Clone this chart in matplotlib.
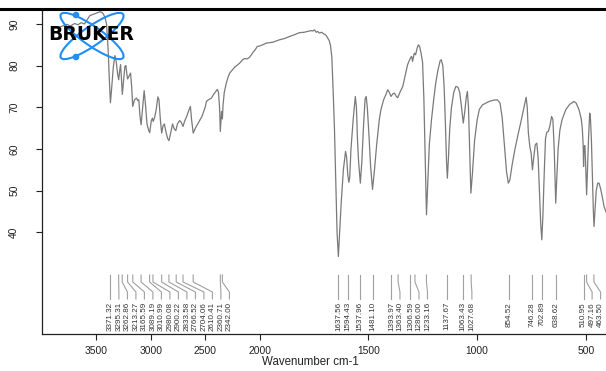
import numpy as np
import matplotlib
matplotlib.use("Agg")
import matplotlib.pyplot as plt
from matplotlib.patches import Ellipse, Circle
from matplotlib.lines import Line2D
from matplotlib.transforms import blended_transform_factory, Affine2D

plt.rcParams['font.family'] = ['Liberation Sans', 'DejaVu Sans']

# ---------------- data ----------------
wavenumber = [3880, 3840, 3800, 3770, 3740, 3700, 3670, 3640, 3610, 3580, 3560, 3520, 3490, 3468, 3450,
              3437, 3420, 3407, 3392, 3380, 3371, 3360, 3345, 3330, 3318, 3305, 3295, 3285, 3278, 3270,
              3262, 3250, 3238, 3229, 3220, 3213, 3200, 3186, 3176, 3166, 3150, 3131, 3120, 3110, 3100,
              3089, 3075, 3061, 3050, 3035, 3020, 3010, 2995, 2985, 2978, 2965, 2950, 2935, 2925, 2912,
              2900, 2888, 2875, 2860, 2845, 2833, 2820, 2800, 2785, 2770, 2755, 2735, 2720, 2704, 2690,
              2670, 2650, 2636, 2625, 2610, 2590, 2560, 2530, 2500, 2489, 2470, 2443, 2420, 2400, 2388,
              2378, 2368, 2361, 2355, 2350, 2346, 2342, 2336, 2325, 2306, 2290, 2275, 2250, 2230, 2210,
              2183, 2160, 2138, 2115, 2092, 2075, 2060, 2040, 2021, 2000, 1985, 1969, 1940, 1908, 1885,
              1862, 1840, 1817, 1795, 1780, 1763, 1755, 1748, 1740, 1733, 1725, 1715, 1705, 1695, 1687,
              1680, 1674, 1668, 1662, 1656, 1650, 1644, 1638, 1632, 1625, 1615, 1605, 1600, 1595, 1590,
              1586, 1580, 1570, 1560, 1555, 1550, 1545, 1537, 1530, 1522, 1515, 1510, 1505, 1497, 1490,
              1481, 1472, 1462, 1450, 1442, 1430, 1420, 1411, 1404, 1396, 1388, 1380, 1372, 1365, 1355,
              1342, 1330, 1320, 1312, 1305, 1301, 1297, 1292, 1289, 1283, 1276, 1270, 1264, 1258, 1251,
              1245, 1240, 1233, 1227, 1220, 1210, 1200, 1190, 1180, 1170, 1165, 1158, 1152, 1146, 1141,
              1137, 1132, 1126, 1118, 1108, 1098, 1088, 1080, 1072, 1064, 1057, 1050, 1045, 1040, 1035,
              1029, 1022, 1012, 1000, 990, 975, 960, 945, 925, 907, 895, 885, 875, 865, 857,
              850, 840, 827, 812, 797, 785, 775, 770, 765, 758, 752, 746, 740, 733, 726,
              720, 714, 708, 703, 698, 692, 686, 680, 673, 666, 658, 652, 646, 642, 639,
              635, 628, 620, 610, 593, 575, 555, 545, 532, 522, 517, 513, 511, 509, 505,
              502, 497, 493, 488, 483, 480, 475, 470, 466, 463, 459, 453, 446, 440, 433,
              425, 417, 405]
transmittance = [89.0, 89.2, 89.6, 89.9, 89.5, 90.1, 89.8, 90.3, 90.0, 91.2, 92.0, 92.4, 92.7, 92.9, 92.8,
                 92.4, 91.5, 90.0, 83.8, 76.0, 71.1, 74.5, 79.5, 82.4, 81.0, 78.0, 76.6, 79.0, 80.2, 77.0,
                 73.1, 76.5, 79.8, 80.0, 78.0, 76.8, 77.5, 78.2, 75.0, 70.2, 71.8, 72.2, 71.6, 71.8, 68.0,
                 65.8, 70.0, 74.0, 71.0, 66.0, 64.5, 63.9, 66.8, 67.4, 66.6, 67.5, 69.5, 72.5, 71.8, 67.0,
                 63.8, 65.5, 66.0, 64.0, 62.5, 62.0, 63.5, 66.0, 64.8, 64.4, 66.0, 66.8, 66.4, 65.4, 66.6,
                 67.8, 69.3, 70.2, 67.0, 63.8, 65.0, 66.4, 67.8, 70.0, 71.4, 71.8, 72.2, 73.2, 73.9, 74.3,
                 73.6, 70.0, 64.2, 67.0, 69.0, 68.0, 67.2, 70.5, 73.5, 75.8, 77.2, 78.2, 79.0, 79.6, 80.0,
                 80.6, 81.3, 81.7, 81.6, 82.0, 82.6, 83.2, 83.8, 84.6, 84.7, 85.0, 85.4, 85.6, 86.2, 86.5,
                 87.0, 87.4, 87.9, 88.0, 88.2, 88.4, 88.3, 88.6, 88.0, 88.2, 87.8, 88.0, 87.6, 87.3, 86.6,
                 86.0, 84.8, 82.0, 74.0, 65.0, 52.0, 40.0, 34.2, 40.0, 47.0, 55.0, 59.4, 58.0, 54.0, 52.0,
                 53.0, 60.0, 67.0, 72.6, 70.0, 62.0, 57.0, 51.8, 57.0, 66.0, 72.0, 72.6, 70.0, 63.0, 56.0,
                 50.3, 55.0, 61.0, 67.0, 69.5, 71.8, 73.0, 74.2, 73.6, 72.6, 73.2, 73.4, 72.6, 72.3, 73.6,
                 75.0, 77.8, 80.2, 81.2, 82.0, 82.2, 81.0, 82.2, 83.0, 82.6, 84.2, 85.0, 84.5, 83.0, 80.8,
                 72.0, 60.0, 44.2, 52.0, 61.0, 67.0, 71.8, 76.0, 79.0, 81.2, 81.4, 80.0, 75.0, 66.0, 57.0,
                 53.0, 58.0, 65.0, 70.0, 73.5, 75.0, 74.8, 73.5, 70.0, 66.2, 69.0, 72.5, 73.8, 70.0, 61.0,
                 49.4, 54.0, 62.0, 67.0, 69.5, 70.6, 71.0, 71.4, 71.7, 71.8, 71.0, 67.5, 61.0, 54.5, 51.8,
                 52.5, 56.0, 59.8, 63.5, 67.0, 70.0, 72.4, 70.0, 64.0, 60.5, 59.0, 55.0, 58.0, 61.0, 61.4,
                 58.0, 50.0, 42.0, 38.2, 44.0, 54.0, 62.5, 64.0, 64.2, 65.5, 67.8, 67.0, 60.0, 52.0, 47.0,
                 52.0, 60.0, 64.5, 67.0, 69.4, 70.7, 71.4, 71.0, 69.4, 67.3, 65.0, 61.0, 55.8, 60.5, 60.8,
                 57.0, 49.0, 55.0, 63.0, 68.6, 68.0, 62.0, 52.0, 45.0, 41.4, 45.0, 50.0, 51.8, 51.8, 50.5,
                 48.5, 46.2, 44.5]

peak_labels = ["3371.32", "3295.31", "3262.86", "3213.27", "3165.59", "3089.19", "3010.99", "2980.08",
               "2900.22", "2833.58", "2766.52", "2704.06", "2610.41", "2360.71", "2342.00",
               "1637.56", "1594.43", "1537.96", "1481.10", "1393.97", "1363.40", "1306.59", "1286.00",
               "1233.16", "1137.67", "1063.43", "1027.68", "854.52", "746.28", "702.89", "638.62",
               "510.95", "497.16", "463.50"]
peak_positions = [float(s) for s in peak_labels]

x_ticks = [3500, 3000, 2500, 2000, 1500, 1000, 500]
y_ticks = [40, 50, 60, 70, 80, 90]
x_label = "Wavenumber cm-1"


# ------------- scale: compressed above 2000 cm-1 -------------
def fwd(x):
    x = np.asarray(x, float)
    return np.where(x > 2000, 2000 + (x - 2000) / 2.0, x)


def inv(y):
    y = np.asarray(y, float)
    return np.where(y > 2000, 2000 + (y - 2000) * 2.0, y)


W, H = 606, 371
fig = plt.figure(figsize=(W / 100, H / 100), dpi=100)
ax = fig.add_axes([42 / W, 1 - 334 / H, (606 - 42) / W, (334 - 11) / H])
ax.set_xscale('function', functions=(fwd, inv))
ax.set_xlim(4000, 408)
ax.set_ylim(15.6, 93.1)

ax.plot(wavenumber, transmittance, color='#7a7a7a', lw=0.9, zorder=3)

for s in ['top', 'right']:
    ax.spines[s].set_visible(False)
for s in ['left', 'bottom']:
    ax.spines[s].set_color('#222222')
    ax.spines[s].set_linewidth(0.9)

ax.set_xticks(x_ticks)
ax.set_xticklabels([str(t) for t in x_ticks])
ax.set_yticks(y_ticks)
ax.set_yticklabels([str(t) for t in y_ticks], rotation=90, va='center')
ax.minorticks_off()
ax.tick_params(axis='x', direction='out', length=4.5, width=0.8, pad=4, labelsize=7.4,
               colors='#222222')
ax.tick_params(axis='y', direction='out', length=4.5, width=0.8, pad=12, labelsize=7.4,
               colors='#222222')

fig.text(310 / W, 1 - 362 / H, x_label, ha='center', va='center', fontsize=8.3, color='#222222')

# ------------- peak labels -------------
spacing = 8.5  # px
px = ax.transData.transform(np.column_stack([peak_positions, np.full(len(peak_positions), 50.0)]))[:, 0]
order = np.argsort(px)
lab = px.copy()
prev = -1e9
for i in order:
    lab[i] = max(px[i], prev + spacing)
    prev = lab[i]
lab_x = ax.transData.inverted().transform(np.column_stack([lab, np.full(len(lab), 50.0)]))[:, 0]


def yfrac(ypix):
    return (334 - ypix) / 323.0


trans = blended_transform_factory(ax.transData, ax.transAxes)
for p, l, t in zip(peak_positions, lab_x, peak_labels):
    ax.plot([p, p, l, l], [yfrac(275), yfrac(282), yfrac(292), yfrac(299)], transform=trans,
            color='#a0a0a0', lw=0.8, clip_on=False, zorder=2)
    ax.text(l, yfrac(302), t, transform=trans, rotation=90, ha='center', va='top',
            fontsize=5.8, color='#333333')

# ------------- top rule -------------
fig.add_artist(Line2D([0, 1], [1 - 8.7 / H] * 2, transform=fig.transFigure, color='black', lw=2.2))

# ------------- Bruker logo (pixel coordinates from top-left) -------------
pix = Affine2D().scale(1, -1).translate(0, H)
blue = '#1f8ef5'
for ang in (35, -35):
    e = Ellipse((92, 36), 76, 19, angle=ang, fill=False, edgecolor=blue, lw=1.5,
                transform=pix, zorder=10)
    fig.add_artist(e)
for (cx, cy) in [(76, 15), (76, 57)]:
    fig.add_artist(Circle((cx, cy), 2.6, color=blue, transform=pix, zorder=11))
fig.text(91 / W, 1 - 35 / H, "BRUKER", ha='center', va='center', fontsize=13.5,
         fontweight='heavy', family=['DejaVu Sans'], color='black', zorder=12)

fig.savefig('out.png', dpi=100)
